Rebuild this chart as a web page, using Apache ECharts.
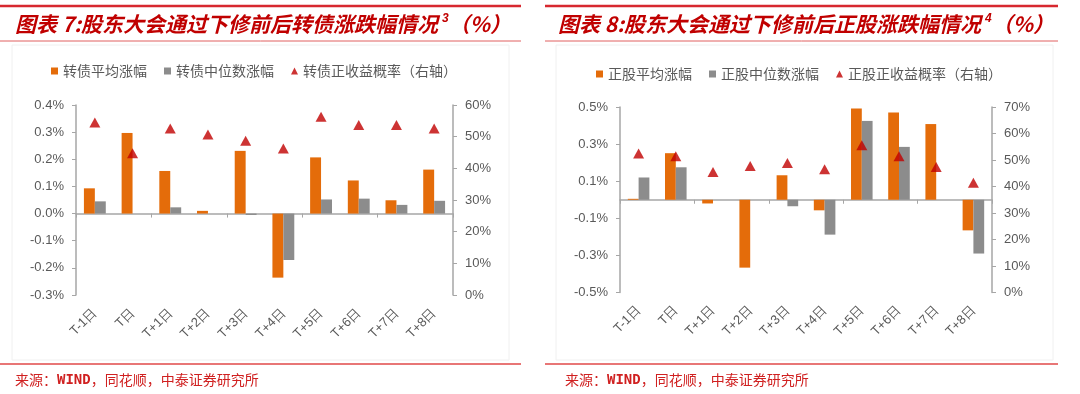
<!DOCTYPE html>
<html><head><meta charset="utf-8">
<script src="https://cdn.jsdelivr.net/npm/echarts@6/dist/echarts.min.js"></script>
<style>html,body{margin:0;padding:0;background:#fff}#c{width:1080px;height:394px}</style>
</head><body><div id="c"></div>
<script>
// ---- data ----
const categories = ['T-1日','T日','T+1日','T+2日','T+3日','T+4日','T+5日','T+6日','T+7日','T+8日'];
// Chart 7: convertible bonds
const cbMean   = [0.093, 0.297, 0.157, 0.010, 0.231, -0.236, 0.207, 0.122, 0.049, 0.162];
const cbMedian = [0.045, 0.000, 0.023, 0.000, -0.005, -0.171, 0.052, 0.055, 0.032, 0.047];
const cbProb   = [54.5, 44.8, 52.6, 50.7, 48.7, 46.3, 56.3, 53.7, 53.7, 52.6];
// Chart 8: underlying stocks
const stMean   = [0.005, 0.251, -0.020, -0.366, 0.132, -0.057, 0.492, 0.471, 0.408, -0.165];
const stMedian = [0.120, 0.175, 0.000, 0.000, -0.035, -0.188, 0.425, 0.285, 0.000, -0.290];
const stProb   = [52.5, 51.4, 45.5, 47.7, 48.9, 46.5, 55.6, 51.4, 47.4, 41.4];
const leftTicks8 = [-0.5, -0.3, -0.1, 0.1, 0.3, 0.5];
const names7 = ['转债平均涨幅','转债中位数涨幅','转债正收益概率（右轴）'];
const names8 = ['正股平均涨幅','正股中位数涨幅','正股正收益概率（右轴）'];

const ORANGE = '#E46C0A', GRAY = '#8C8C8C', DARKRED = '#C00000';
const AXC = '#A6A6A6', TXT = '#595959';
const FONT = 'Liberation Sans, Arial, sans-serif';
const CJK = 'Noto Sans CJK SC';

const chart = echarts.init(document.getElementById('c'), null, {renderer:'canvas'});

function xAxes(gridIndex){
  return [
    {type:'category', gridIndex, data:categories,
     axisLine:{onZero:true, lineStyle:{color:AXC,width:1.5}},
     axisTick:{show:true, length:4, lineStyle:{color:AXC}},
     axisLabel:{show:false}},
    {type:'category', gridIndex, data:categories, position:'bottom',
     axisLine:{show:false, onZero:false}, axisTick:{show:false},
     axisLabel:{rotate:45, margin:16, color:TXT, fontSize:13, fontFamily:FONT}}
  ];
}
function ax(extra){
  return Object.assign({
    axisLine:{show:true, lineStyle:{color:AXC,width:1.5}},
    axisTick:{show:true, length:4, lineStyle:{color:AXC}},
    splitLine:{show:false},
    axisLabel:{color:TXT, fontSize:13, fontFamily:FONT, margin:12}
  }, extra);
}
function barSeries(name, data, color, xi, yi){
  return {name, type:'bar', data, xAxisIndex:xi, yAxisIndex:yi,
    itemStyle:{color}, barGap:'0%', barCategoryGap:'42%'};
}
function triSeries(name, data, xi, yi){
  return {name, type:'scatter', data, xAxisIndex:xi, yAxisIndex:yi,
    symbol:'triangle', symbolSize:[11,10], itemStyle:{color:DARKRED}, z:5};
}

function titleText(x, num, rest, sup){
  return {type:'text', left:x, top:13, style:{
    text:'{m|图表 '+num+':'+rest+'}{s|'+sup+'}{m|（%）}',
    rich:{
      m:{fill:DARKRED, fontFamily:CJK, fontWeight:'bold', fontStyle:'italic', fontSize:21},
      s:{fill:DARKRED, fontFamily:FONT, fontWeight:'bold', fontStyle:'italic', fontSize:12, verticalAlign:'top', padding:[0,0,10,4]}
    }}};
}
function line(x1,x2,y,w,c){
  return {type:'line', shape:{x1,y1:y,x2,y2:y}, style:{stroke:c, lineWidth:w}};
}
function source(x){
  return {type:'text', left:x, top:373, style:{
    text:'{c|来源：}{w|WIND}{c|，同花顺，中泰证券研究所}',
    rich:{
      c:{fill:'#D02020', fontFamily:CJK, fontSize:14},
      w:{fill:'#D02020', fontFamily:'DejaVu Sans Mono', fontWeight:'bold', fontSize:14}
    }}};
}

chart.setOption({
  animation:false,
  textStyle:{fontFamily:FONT},
  legend:[
    {data:[{name:names7[0],icon:'rect'},{name:names7[1],icon:'rect'},{name:names7[2],icon:'triangle'}],
     left:46, top:59, itemWidth:7, itemHeight:7, itemGap:17,
     textStyle:{color:TXT, fontSize:14, fontFamily:CJK}},
    {data:[{name:names8[0],icon:'rect'},{name:names8[1],icon:'rect'},{name:names8[2],icon:'triangle'}],
     left:591, top:62, itemWidth:7, itemHeight:7, itemGap:17,
     textStyle:{color:TXT, fontSize:14, fontFamily:CJK}}
  ],
  grid:[
    {left:76, top:105, width:377, height:190},
    {left:620, top:107, width:372, height:185.5}
  ],
  xAxis:[...xAxes(0), ...xAxes(1)],
  yAxis:[
    ax({type:'value', gridIndex:0, min:-0.3, max:0.4, interval:0.1,
        axisLabel:{color:TXT, fontSize:13, fontFamily:FONT, margin:12, formatter:v=>v.toFixed(1)+'%'}}),
    ax({type:'value', gridIndex:0, position:'right', min:0, max:60, interval:10,
        axisLabel:{color:TXT, fontSize:13, fontFamily:FONT, margin:12, formatter:v=>v+'%'}}),
    ax({type:'value', gridIndex:1, min:-0.5, max:0.5,
        axisTick:{show:true, length:4, lineStyle:{color:AXC}, customValues:leftTicks8},
        axisLabel:{color:TXT, fontSize:13, fontFamily:FONT, margin:12, customValues:leftTicks8, formatter:v=>v.toFixed(1)+'%'}}),
    ax({type:'value', gridIndex:1, position:'right', min:0, max:70, interval:10,
        axisLabel:{color:TXT, fontSize:13, fontFamily:FONT, margin:12, formatter:v=>v+'%'}})
  ],
  series:[
    barSeries(names7[0], cbMean, ORANGE, 0, 0),
    barSeries(names7[1], cbMedian, GRAY, 0, 0),
    triSeries(names7[2], cbProb, 0, 1),
    barSeries(names8[0], stMean, ORANGE, 2, 2),
    barSeries(names8[1], stMedian, GRAY, 2, 2),
    triSeries(names8[2], stProb, 2, 3)
  ],
  graphic:[
    {type:'rect', shape:{x:12,y:45,width:497,height:315}, style:{fill:'none', stroke:'#F0F0F0', lineWidth:1}, silent:true, z:-1},
    {type:'rect', shape:{x:556,y:45,width:497,height:315}, style:{fill:'none', stroke:'#F0F0F0', lineWidth:1}, silent:true, z:-1},
    line(0,521,6,2.5,'#D7282F'), line(0,521,41,1,'#E06060'), line(0,521,364,1.5,'#E04848'),
    line(545,1058,6,2.5,'#D7282F'), line(545,1058,41,1,'#E06060'), line(545,1058,364,1.5,'#E04848'),
    titleText(15,'7','股东大会通过下修前后转债涨跌幅情况','3'),
    titleText(558,'8','股东大会通过下修前后正股涨跌幅情况','4'),
    source(15), source(565)
  ]
});
</script></body></html>
